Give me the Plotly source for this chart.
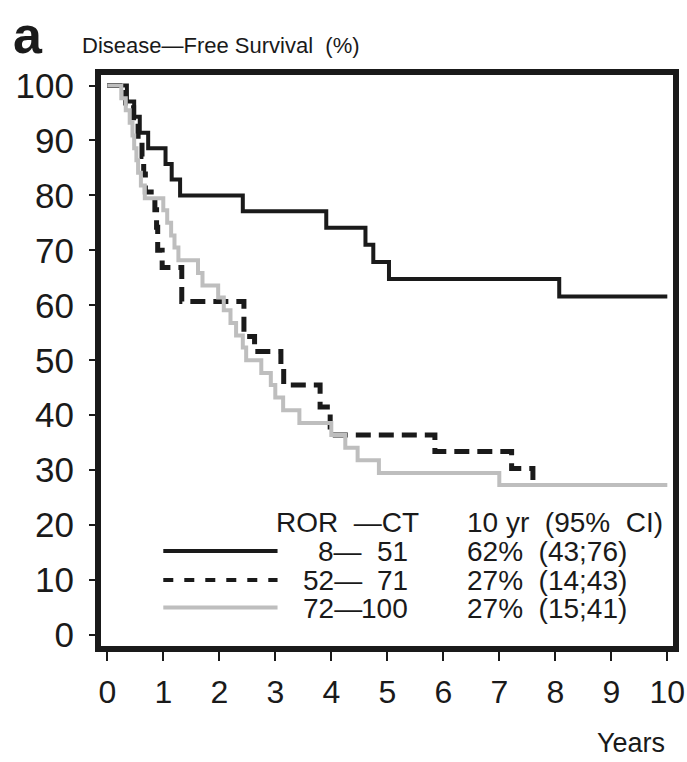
import plotly.graph_objects as go

# ---- data ----
years_ticks = list(range(0, 11))
pct_ticks = list(range(0, 101, 10))

low_t = [0, 0.35, 0.48, 0.58, 0.73, 1.04, 1.15, 1.30, 2.42, 3.91, 4.61, 4.75, 5.03, 8.07, 10.0]
low_s = [100, 97.1, 94.3, 91.4, 88.6, 85.7, 82.9, 80.0, 77.1, 74.1, 71.0, 67.9, 64.8, 61.6, 61.6]

mid_t = [0, 0.33, 0.47, 0.55, 0.62, 0.65, 0.68, 0.85, 0.88, 0.90, 0.98, 1.33, 2.44, 2.63,
         3.10, 3.15, 3.80, 3.98, 5.85, 7.22, 7.60, 7.65]
mid_s = [100, 96.8, 93.5, 90.3, 87.1, 83.9, 80.6, 77.4, 74.2, 70.0, 66.9, 60.7, 54.3, 51.6,
         48.4, 45.5, 41.5, 36.4, 33.4, 30.3, 27.3, 27.3]

high_t = [0, 0.25, 0.33, 0.40, 0.45, 0.48, 0.52, 0.55, 0.60, 0.67, 1.00, 1.07, 1.14, 1.20, 1.27,
          1.62, 1.70, 1.98, 2.08, 2.20, 2.30, 2.42, 2.48, 2.75, 2.92, 3.00, 3.14, 3.43,
          4.00, 4.25, 4.47, 4.85, 7.00, 10.0]
high_s = [100, 97.7, 95.5, 93.2, 90.9, 88.6, 86.4, 84.1, 81.8, 79.5, 77.3, 75.0, 72.7, 70.5, 68.2,
          65.9, 63.6, 61.4, 59.1, 56.8, 54.5, 52.3, 50.0, 47.7, 45.5, 43.2, 40.9, 38.6,
          36.4, 34.1, 31.8, 29.5, 27.3, 27.3]

group_lo = ["8", "52", "72"]
group_hi = ["51", "71", "100"]
estimates = ["62%  (43;76)", "27%  (14;43)", "27%  (15;41)"]

BLACK = "#1a1a1a"
GRAY = "#bebebe"
FONT = "Liberation Sans, Arial, sans-serif"

fig = go.Figure()
fig.add_trace(go.Scatter(x=low_t, y=low_s, mode="lines", line=dict(shape="hv", color=BLACK, width=4),
                         showlegend=False, hoverinfo="skip"))
fig.add_trace(go.Scatter(x=mid_t, y=mid_s, mode="lines",
                         line=dict(shape="hv", color=BLACK, width=5, dash="15px,8px"),
                         showlegend=False, hoverinfo="skip"))
fig.add_trace(go.Scatter(x=high_t, y=high_s, mode="lines", line=dict(shape="hv", color=GRAY, width=4),
                         showlegend=False, hoverinfo="skip"))

# legend-like key (drawn as annotations + short line shapes)
key_y = [15.3, 10.0, 5.0]
styles = [dict(color=BLACK, width=4), dict(color=BLACK, width=4, dash="10px,11px"), dict(color=GRAY, width=4)]
for yy, st in zip(key_y, styles):
    fig.add_shape(type="line", xref="x", yref="y", x0=1.0, x1=3.04, y0=yy, y1=yy, line=st)

ann = []
tf = dict(family=FONT, size=28, color=BLACK)
ann.append(dict(x=2.98, y=20.4, text="ROR  —CT", xanchor="left", yanchor="middle", font=tf))
ann.append(dict(x=6.38, y=20.4, text="10 yr  (95%  CI)", xanchor="left", yanchor="middle", font=tf))
row_y = [15.2, 10.0, 4.9]
for yy, a, b, e in zip(row_y, group_lo, group_hi, estimates):
    ann.append(dict(x=4.58, y=yy, text=a + "—", xanchor="right", yanchor="middle", font=tf))
    ann.append(dict(x=5.40, y=yy, text=b, xanchor="right", yanchor="middle", font=tf))
    ann.append(dict(x=6.38, y=yy, text=e, xanchor="left", yanchor="middle", font=tf))
for a_ in ann:
    a_.update(xref="x", yref="y", showarrow=False)

# texts outside the plotting area, placed in paper coordinates
ann.append(dict(x=-0.036, y=1.0525, text="Disease—Free Survival  (%)", xanchor="left", yanchor="middle",
                xref="paper", yref="paper", showarrow=False,
                font=dict(family=FONT, size=22, color=BLACK)))
ann.append(dict(x=-0.127, y=1.07, text="<b>a</b>", xanchor="center", yanchor="middle",
                xref="paper", yref="paper", showarrow=False,
                font=dict(family=FONT, size=52, color=BLACK)))
ann.append(dict(x=0.9895, y=-0.17, text="Years", xanchor="right", yanchor="middle",
                xref="paper", yref="paper", showarrow=False,
                font=dict(family=FONT, size=27, color=BLACK)))
fig.update_layout(annotations=ann)

fig.update_xaxes(range=[-0.1123, 10.1016], tickvals=years_ticks, ticks="outside", ticklen=9, tickwidth=2,
                 tickcolor=BLACK, showline=True, linewidth=6, linecolor=BLACK, mirror=True,
                 showgrid=False, zeroline=False, ticklabelstandoff=4, ticklabeloverflow="allow",
                 tickfont=dict(family=FONT, size=32, color=BLACK))
fig.update_yaxes(range=[-2.0, 101.91], tickvals=pct_ticks, ticks="outside", ticklen=6, tickwidth=2,
                 tickcolor=BLACK, showline=True, linewidth=6, linecolor=BLACK, mirror=True,
                 showgrid=False, zeroline=False, ticklabelstandoff=8, ticklabeloverflow="allow",
                 tickfont=dict(family=FONT, size=35, color=BLACK))
fig.update_layout(width=687, height=762, margin=dict(l=101, r=2, t=75, b=116),
                  plot_bgcolor="white", paper_bgcolor="white")
fig.write_html("out.html")
